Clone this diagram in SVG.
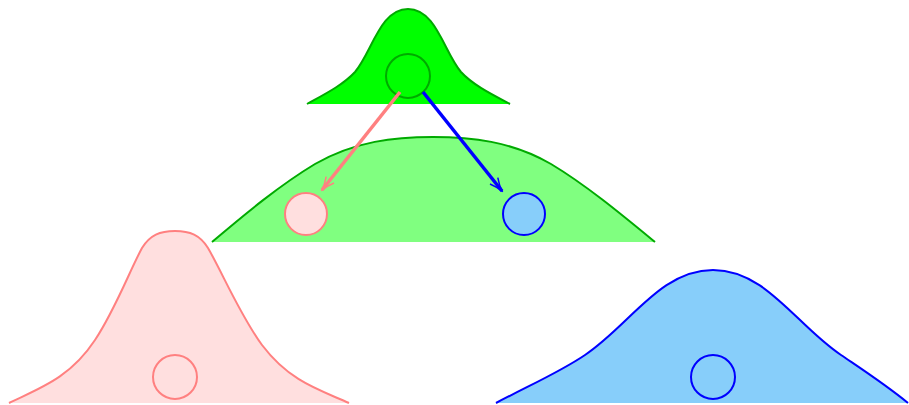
<svg xmlns="http://www.w3.org/2000/svg" width="909" height="405" viewBox="0 0 909 405">
<style>
.s{stroke-width:2;stroke-linejoin:round}
.c{stroke-width:2}
.a{fill:none;stroke-width:3.5}
</style>
<defs>
<marker id="mp" viewBox="-14 -6 16 12" refX="0" refY="0" markerWidth="16" markerHeight="12" markerUnits="userSpaceOnUse" orient="auto">
<path d="M-13,-5 Q-6,-1 1,0 Q-6,1 -13,5" fill="none" stroke="#ff8080" stroke-width="1.5"/>
</marker>
<marker id="mb" viewBox="-14 -6 16 12" refX="0" refY="0" markerWidth="16" markerHeight="12" markerUnits="userSpaceOnUse" orient="auto">
<path d="M-13,-5 Q-6,-1 1,0 Q-6,1 -13,5" fill="none" stroke="#0000ff" stroke-width="1.5"/>
</marker>
</defs>
<g id="mid">
<path class="s" d="M212,242 C245,214 280,185 315,164 C355,141 395,137 433,137 C471,137 511,141 551,164 C586,185 621,214 655,242" fill="#80ff80" stroke="#00aa00"/>
</g>
<g id="top">
<path class="s" d="M307,104 C325,94 343,85 355,72 C372,52 380,9 408,9 C436,9 444,52 461,72 C473,85 491,94 510,104" fill="#00ff00" stroke="#00aa00"/>
<circle class="c" cx="408" cy="76" r="22" fill="none" stroke="#00aa00"/>
</g>
<g id="pinkleft">
<path class="s" d="M9,403 C40,388 70,378 95,340 C115,310 130,270 142,248 C150,235 160,231 175,231 C190,231 200,235 208,248 C222,272 240,315 262,345 C290,382 320,390 349,403" fill="#ffdfdf" stroke="#ff8080"/>
<circle class="c" cx="175" cy="377" r="22" fill="none" stroke="#ff8080"/>
</g>
<g id="blueright">
<path class="s" d="M496,403 C530,385 560,372 585,355 C630,325 660,270 713,270 C766,270 796,325 841,355 C866,372 886,385 908,403" fill="#87cefa" stroke="#0000ff"/>
<circle class="c" cx="713" cy="377" r="22" fill="none" stroke="#0000ff"/>
</g>
<g id="pinkc">
<circle class="c" cx="306" cy="214" r="21" fill="#ffdfdf" stroke="#ff8080"/>
</g>
<g id="bluec">
<circle class="c" cx="524" cy="214" r="21" fill="#87cefa" stroke="#0000ff"/>
</g>
<g id="connectors">
<line class="a" x1="400" y1="92" x2="322" y2="190" stroke="#ff8080" marker-end="url(#mp)"/>
<line class="a" x1="423" y1="92" x2="502" y2="191" stroke="#0000ff" marker-end="url(#mb)"/>
</g>
</svg>
